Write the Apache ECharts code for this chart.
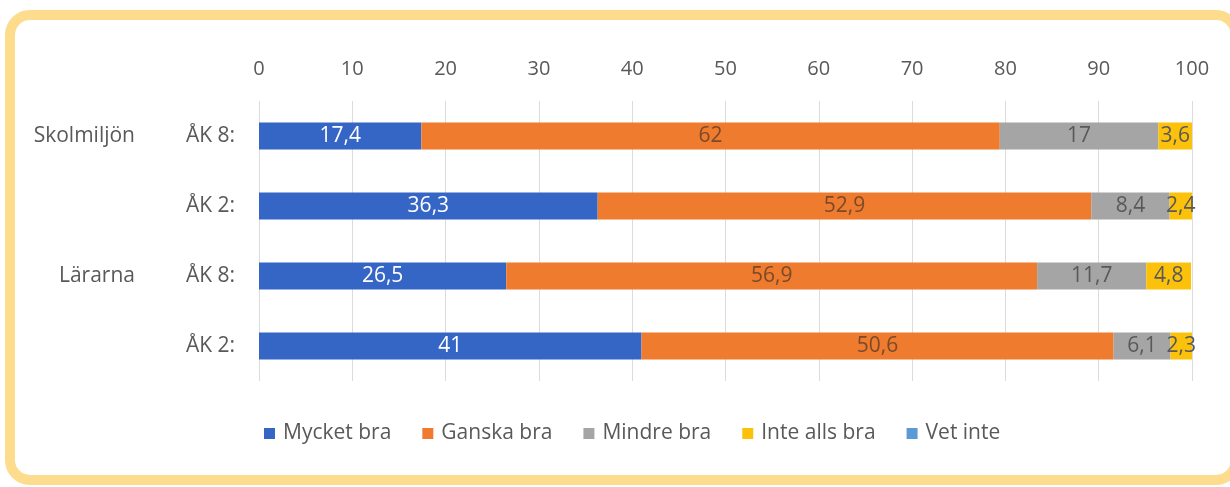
<!DOCTYPE html>
<html>
<head>
<meta charset="utf-8">
<script src="https://cdn.jsdelivr.net/npm/echarts@6/dist/echarts.min.js"></script>
<style>html,body{margin:0;padding:0;background:#fff;}#c{width:1230px;height:487px;}</style>
</head>
<body>
<div id="c"></div>
<script>
const categories = ['ÅK 8:', 'ÅK 2:', 'ÅK 8:', 'ÅK 2:'];
const groups = ['Skolmiljön', '', 'Lärarna', ''];
const seriesNames = ['Mycket bra', 'Ganska bra', 'Mindre bra', 'Inte alls bra', 'Vet inte'];
const mycketBra = [17.4, 36.3, 26.5, 41];
const ganskaBra = [62, 52.9, 56.9, 50.6];
const mindreBra = [17, 8.4, 11.7, 6.1];
const inteAllsBra = [3.6, 2.4, 4.8, 2.3];
const vetInte = [0, 0, 0, 0];
const xTicks = [0, 10, 20, 30, 40, 50, 60, 70, 80, 90, 100];

const colors = ['#3566C6', '#EF7B2F', '#A5A5A5', '#FCC10A', '#5A9BD5'];
const labelColors = ['#ffffff', '#7a4a2a', '#595959', '#595959', '#595959'];
const dataSets = [mycketBra, ganskaBra, mindreBra, inteAllsBra, vetInte];
const FONT = 'Open Sans';
const FS = 21;

const chart = echarts.init(document.getElementById('c'));
chart.setOption({
  animation: false,
  textStyle: { fontFamily: FONT },
  graphic: [{
    type: 'rect',
    shape: { x: 10, y: 15, width: 1226, height: 465, r: 20 },
    style: { fill: 'none', stroke: '#FDDC8D', lineWidth: 10 },
    z: 100
  }],
  grid: { left: 259, right: 38, top: 101, bottom: 106, containLabel: false },
  legend: {
    bottom: 38,
    left: 259,
    itemWidth: 11,
    itemHeight: 11,
    itemGap: 31,
    icon: 'rect',
    textStyle: { fontFamily: FONT, fontSize: FS, color: '#595959', padding: [0, 0, 0, 3] },
    data: seriesNames
  },
  xAxis: {
    type: 'value',
    position: 'top',
    min: 0,
    max: 100,
    interval: 10,
    axisLine: { show: false },
    axisTick: { show: false },
    axisLabel: { fontFamily: FONT, fontSize: 20, color: '#595959', margin: 22,
      formatter: v => xTicks.includes(v) ? String(v) : '' },
    splitLine: { lineStyle: { color: '#DCDCDC', width: 1 } }
  },
  yAxis: [{
    type: 'category',
    data: categories,
    inverse: true,
    axisLine: { show: false },
    axisTick: { show: false },
    axisLabel: { fontFamily: FONT, fontSize: FS, color: '#595959', margin: 24 }
  }, {
    type: 'category',
    data: groups,
    inverse: true,
    position: 'left',
    offset: 100,
    axisLine: { show: false },
    axisTick: { show: false },
    axisLabel: { fontFamily: FONT, fontSize: FS, color: '#595959', margin: 24 }
  }],
  series: seriesNames.map((name, i) => ({
    name: name,
    type: 'bar',
    stack: 'total',
    barWidth: 27,
    yAxisIndex: 0,
    itemStyle: { color: colors[i] },
    label: {
      show: true,
      position: 'inside',
      fontFamily: FONT,
      fontSize: FS,
      color: labelColors[i],
      formatter: p => p.value ? String(p.value).replace('.', ',') : ''
    },
    data: dataSets[i]
  }))
});
</script>
</body>
</html>
